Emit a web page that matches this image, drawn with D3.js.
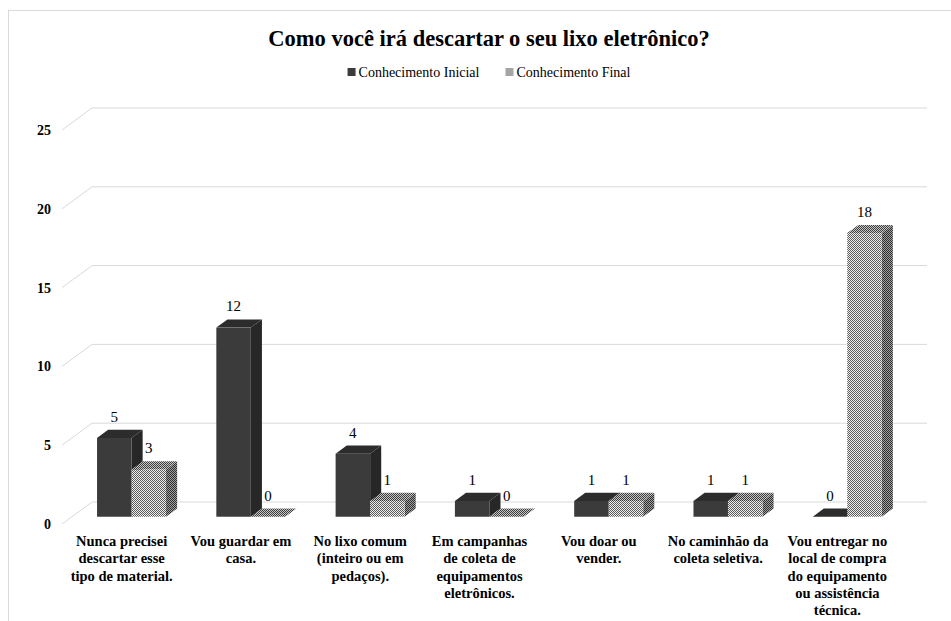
<!DOCTYPE html>
<html>
<head>
<meta charset="utf-8">
<script src="https://cdn.jsdelivr.net/npm/d3@7"></script>
<style>
  html, body { margin: 0; padding: 0; background: #fff; }
  svg { display: block; }
</style>
</head>
<body>
<script>
// Survey answers: how each participant plans to dispose of e-waste
const categories = [
  ["Nunca precisei", "descartar esse", "tipo de material."],
  ["Vou guardar em", "casa."],
  ["No lixo comum", "(inteiro ou em", "pedaços)."],
  ["Em campanhas", "de coleta de", "equipamentos", "eletrônicos."],
  ["Vou doar ou", "vender."],
  ["No caminhão da", "coleta seletiva."],
  ["Vou entregar no", "local de compra", "do equipamento", "ou assistência", "técnica."]
];
const seriesNames = ["Conhecimento Inicial", "Conhecimento Final"];
const inicial = [5, 12, 4, 1, 1, 1, 0];
const final = [3, 0, 1, 0, 1, 1, 18];
const yTicks = [0, 5, 10, 15, 20, 25];

const FONT = "'Liberation Serif', 'Times New Roman', Tinos, 'DejaVu Serif', serif";
const W = 951, H = 621;
const svg = d3.select("body").append("svg").attr("width", W).attr("height", H)
  .attr("font-family", FONT);

// Fill patterns for the textured series (front / top / side faces)
const defs = svg.append("defs");
function checker(id, light, dark) {
  const p = defs.append("pattern").attr("id", id)
    .attr("width", 2).attr("height", 2).attr("patternUnits", "userSpaceOnUse");
  p.append("rect").attr("width", 2).attr("height", 2).attr("fill", light);
  p.append("rect").attr("x", 0).attr("y", 0).attr("width", 1).attr("height", 1).attr("fill", dark);
  p.append("rect").attr("x", 1).attr("y", 1).attr("width", 1).attr("height", 1).attr("fill", dark);
}
checker("patFront", "#f0f0f0", "#5a5a5a");
checker("patTop", "#c8c8c8", "#3c3c3c");
checker("patSide", "#a0a0a0", "#2e2e2e");

const faceFill = [
  { front: "#3b3b3b", top: "#2c2c2c", side: "#272727" },
  { front: "url(#patFront)", top: "url(#patTop)", side: "url(#patSide)" }
];

// Outer chart frame
svg.append("rect").attr("x", 8.5).attr("y", 10.5).attr("width", W).attr("height", H)
  .attr("fill", "none").attr("stroke", "#d9d9d9");

// Title
svg.append("text").attr("x", 489).attr("y", 46).attr("text-anchor", "middle")
  .attr("font-family", FONT)
  .attr("font-size", 22.5).attr("font-weight", "bold").attr("fill", "#000")
  .text("Como você irá descartar o seu lixo eletrônico?");

// Scales: front plane of the 3D box, plus a depth vector
const x = d3.scaleBand().domain(d3.range(categories.length)).range([62, 897]);
const xs = d3.scaleBand().domain([0, 1]).range([-34.5, 34.5]);
const y = d3.scaleLinear().domain([0, 25]).range([524, 130]);
const DX = 30, DY = -22;          // full floor depth
const dFront = 0.33, dBack = 0.70; // bar depth span
const P = (px, v, d) => [px + DX * d, y(v) + DY * d];

// Gridlines: side-wall diagonal + back-wall horizontal
const grid = svg.append("g").attr("fill", "none").attr("stroke", "#d9d9d9").attr("stroke-width", 1);
yTicks.forEach(v => {
  const a = P(62, v, 0), b = P(62, v, 1);
  grid.append("path").attr("d", `M${a[0]},${a[1]}L${b[0]},${b[1]}L927,${b[1]}`);
});

// Value axis labels
const axis = svg.append("g").attr("transform", "translate(51,0)")
  .call(d3.axisLeft(y).tickValues(yTicks).tickSize(0).tickPadding(0));
axis.select(".domain").remove();
axis.attr("font-family", FONT);
axis.selectAll("text").attr("font-family", FONT)
  .attr("font-size", 14).attr("font-weight", "bold").attr("fill", "#000");

// Bars
const bars = svg.append("g");
const labels = svg.append("g").attr("font-family", FONT).attr("font-size", 15)
  .attr("fill", "#000").attr("text-anchor", "middle");
const series = [inicial, final];
categories.forEach((cat, i) => {
  const cx = x(i) + x.bandwidth() / 2;
  series.forEach((vals, s) => {
    const v = vals[i];
    const x0 = cx + xs(s), x1 = x0 + xs.bandwidth();
    const poly = pts => pts.map(p => p.join(",")).join(" ");
    const g = bars.append("g");
    // side face
    g.append("polygon").attr("points", poly([P(x1, 0, dFront), P(x1, v, dFront), P(x1, v, dBack), P(x1, 0, dBack)]))
      .attr("fill", faceFill[s].side);
    // top face
    g.append("polygon").attr("points", poly([P(x0, v, dFront), P(x1, v, dFront), P(x1, v, dBack), P(x0, v, dBack)]))
      .attr("fill", faceFill[s].top);
    // front face
    const f0 = P(x0, v, dFront), f1 = P(x1, 0, dFront);
    g.append("rect").attr("x", f0[0]).attr("y", f0[1])
      .attr("width", f1[0] - f0[0]).attr("height", Math.max(0, f1[1] - f0[1]))
      .attr("fill", faceFill[s].front);
    // value label above the bar's top face
    const lx = (x0 + x1) / 2 + DX * dFront;
    const ly = y(v) + DY * dBack - 8;
    labels.append("text").attr("x", lx).attr("y", ly).text(v);
  });
});

// Category labels (wrapped, centered on the front plane)
const cats = svg.append("g").attr("font-family", FONT).attr("font-size", 14.5)
  .attr("font-weight", "bold").attr("text-anchor", "middle").attr("fill", "#000");
categories.forEach((lines, i) => {
  const t = cats.append("text").attr("x", x(i) + x.bandwidth() / 2).attr("y", 546);
  lines.forEach((ln, k) => {
    t.append("tspan").attr("x", x(i) + x.bandwidth() / 2).attr("dy", k === 0 ? 0 : 17.3).text(ln);
  });
});

// Legend, centered under the title
const legend = svg.append("g").attr("font-family", FONT).attr("font-size", 14).attr("fill", "#000");
const swatch = [faceFill[0].front, "url(#patFront)"];
const items = seriesNames.map((name, s) => {
  const g = legend.append("g");
  g.append("rect").attr("width", 8).attr("height", 8).attr("y", -4).attr("fill", swatch[s]);
  const t = g.append("text").attr("x", 11).attr("y", 0).attr("dy", "0.33em").text(name);
  return { g, w: 11 + t.node().getComputedTextLength() };
});
const gap = 26;
const total = d3.sum(items, d => d.w) + gap * (items.length - 1);
let cursor = 489 - total / 2;
items.forEach(it => { it.g.attr("transform", `translate(${cursor},72)`); cursor += it.w + gap; });
</script>
</body>
</html>
